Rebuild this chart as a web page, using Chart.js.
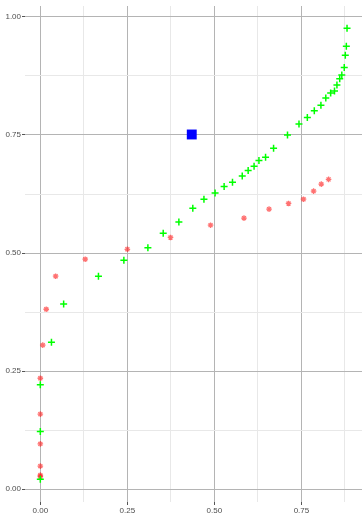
<!DOCTYPE html>
<html>
<head>
<meta charset="utf-8">
<script src="https://cdn.jsdelivr.net/npm/chart.js@4.4.1/dist/chart.umd.min.js"></script>
<style>
  html, body { margin: 0; padding: 0; background: #ffffff; }
  #wrap { width: 362px; height: 514px; }
</style>
</head>
<body>
<div id="wrap"><canvas id="c" width="362" height="514"></canvas></div>
<script>
// Series values
const greenX = [0, 0, 0, 0.032, 0.067, 0.167, 0.240, 0.309, 0.353, 0.398, 0.438, 0.470, 0.502, 0.528, 0.552, 0.580, 0.597, 0.614, 0.628, 0.647, 0.670, 0.710, 0.743, 0.767, 0.787, 0.806, 0.820, 0.834, 0.845, 0.852, 0.860, 0.866, 0.873, 0.876, 0.879, 0.881];
const greenY = [0.021, 0.122, 0.221, 0.311, 0.392, 0.451, 0.485, 0.511, 0.542, 0.566, 0.595, 0.614, 0.627, 0.641, 0.650, 0.663, 0.675, 0.684, 0.696, 0.703, 0.722, 0.750, 0.773, 0.787, 0.801, 0.813, 0.828, 0.839, 0.843, 0.856, 0.869, 0.877, 0.893, 0.919, 0.938, 0.976];

const redX = [0, 0, 0, 0, 0, 0, 0.007, 0.017, 0.044, 0.129, 0.250, 0.374, 0.489, 0.585, 0.657, 0.713, 0.756, 0.785, 0.807, 0.828];
const redY = [0.027, 0.030, 0.049, 0.096, 0.159, 0.235, 0.305, 0.381, 0.451, 0.487, 0.508, 0.533, 0.559, 0.574, 0.593, 0.605, 0.614, 0.631, 0.646, 0.656];

const blueX = [0.435];
const blueY = [0.751];

// Gridline positions (majors labelled, minors in between)
const xTicks = [0, 0.125, 0.25, 0.375, 0.5, 0.625, 0.75, 0.875];
const yTicks = [0, 0.125, 0.25, 0.375, 0.5, 0.625, 0.75, 0.875, 1.0];

const xRange = [-0.044, 0.924];
const yRange = [-0.027, 1.023];

const toPoints = (xs, ys) => xs.map((x, i) => ({ x: x, y: ys[i] }));
const isMajor = v => Math.abs(v * 4 - Math.round(v * 4)) < 1e-9;

function axis(range, ticks, fit) {
  return {
    type: 'linear',
    min: range[0],
    max: range[1],
    afterBuildTicks: s => { s.ticks = ticks.map(v => ({ value: v })); },
    afterFit: fit,
    border: { display: false },
    grid: {
      color: c => (c.tick && isMajor(c.tick.value)) ? '#b4b4b4' : '#e8e8e8',
      lineWidth: 1,
      tickLength: 3,
      tickColor: c => (c.tick && isMajor(c.tick.value)) ? '#555555' : 'rgba(0,0,0,0)',
      tickWidth: 1
    },
    ticks: {
      autoSkip: false,
      maxRotation: 0,
      padding: 1,
      color: '#4d4d4d',
      font: { family: 'Liberation Sans, Arial, sans-serif', size: 8 },
      callback: v => isMajor(v) ? v.toFixed(2) : ''
    }
  };
}

new Chart(document.getElementById('c'), {
  type: 'scatter',
  data: {
    datasets: [
      {
        data: toPoints(greenX, greenY),
        pointStyle: 'cross',
        radius: 3.5,
        borderWidth: 1.5,
        borderColor: '#00ff00',
        backgroundColor: '#00ff00'
      },
      {
        data: toPoints(redX, redY),
        pointStyle: 'star',
        radius: 2.8,
        borderWidth: 1.3,
        borderColor: 'rgba(255,20,20,0.6)',
        backgroundColor: 'rgba(255,20,20,0.6)'
      },
      {
        data: toPoints(blueX, blueY),
        pointStyle: 'rect',
        radius: 7,
        borderWidth: 0,
        borderColor: '#0000ff',
        backgroundColor: '#0000ff'
      }
    ]
  },
  options: {
    responsive: false,
    animation: false,
    layout: { autoPadding: false, padding: { top: 6, left: 0, right: 0, bottom: 0 } },
    plugins: { legend: { display: false }, tooltip: { enabled: false } },
    scales: {
      x: axis(xRange, xTicks, s => { s.height = 12; }),
      y: axis(yRange, yTicks, s => { s.width = 25; })
    }
  }
});
</script>
</body>
</html>
